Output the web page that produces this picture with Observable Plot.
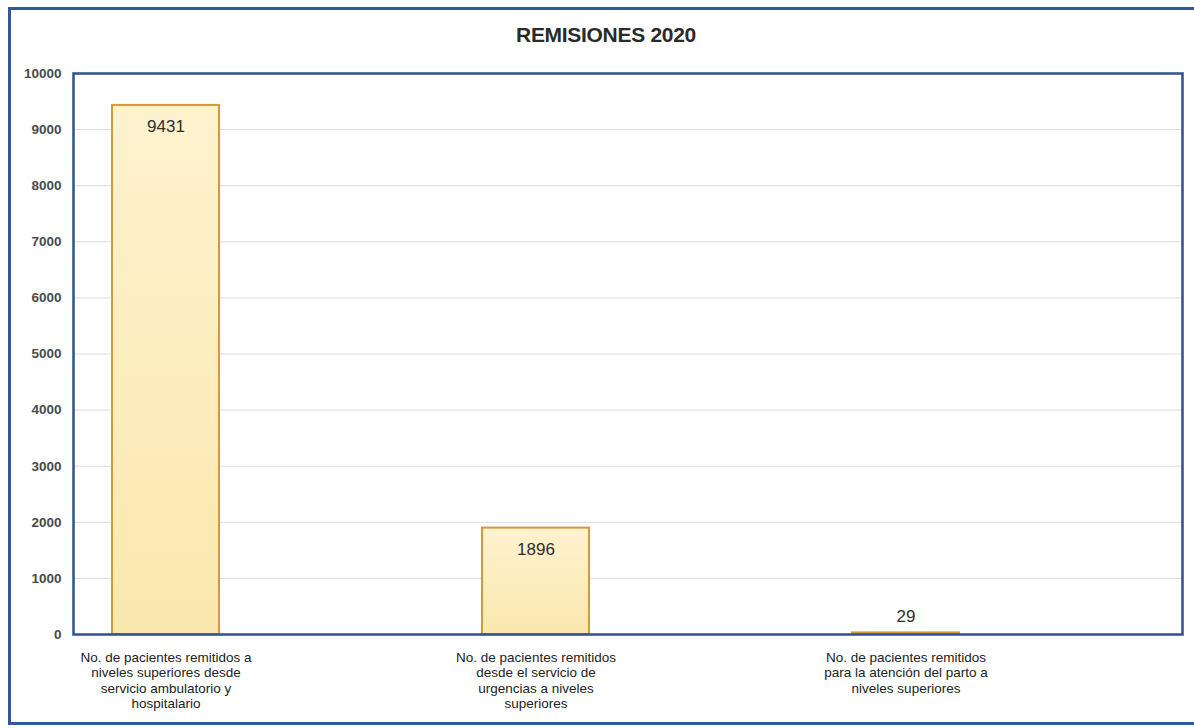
<!DOCTYPE html>
<html>
<head>
<meta charset="utf-8">
<script src="https://cdn.jsdelivr.net/npm/d3@7"></script>
<script src="https://cdn.jsdelivr.net/npm/@observablehq/plot@0.6"></script>
<style>
  html, body { margin: 0; padding: 0; background: #fff; overflow: hidden; width: 1194px; height: 728px; }
  #frame { position: absolute; left: 8px; top: 7px; width: 1200px; height: 718px; box-sizing: border-box; border: 3px solid #34579a; border-right: none; }
  #title { position: absolute; left: 0; top: 23px; width: 1212px; text-align: center; font-family: "Liberation Sans", Arial, sans-serif; font-weight: bold; font-size: 21px; color: #2a2a2a; letter-spacing: -0.3px; }
  #chart { position: absolute; left: 0; top: 50px; }
</style>
</head>
<body>
<div id="frame"></div>
<div id="title">REMISIONES 2020</div>
<div id="chart"></div>
<script>
const categories = [
  "No. de pacientes remitidos a\nniveles superiores desde\nservicio ambulatorio y\nhospitalario",
  "No. de pacientes remitidos\ndesde el servicio de\nurgencias a niveles\nsuperiores",
  "No. de pacientes remitidos\npara la atención del parto a\nniveles superiores"
];
const values = [9431, 1896, 29];
const yTicks = [0, 1000, 2000, 3000, 4000, 5000, 6000, 7000, 8000, 9000, 10000];

const data = categories.map((c, i) => ({category: c, value: values[i]}));

const chart = Plot.plot({
  width: 1194,
  height: 670,
  marginTop: 23,
  marginBottom: 86,
  marginLeft: 73,
  marginRight: 12,
  style: {fontFamily: "'Liberation Sans', Arial, sans-serif", background: "transparent", overflow: "visible"},
  x: {type: "band", domain: categories, paddingInner: 0.711, paddingOuter: 0.352, align: 0.15, label: null},
  y: {domain: [0, 10000], label: null},
  marks: [
    Plot.ruleY(yTicks.filter(d => d > 0 && d < 10000), {stroke: "#dcdcdc", strokeWidth: 1}),
    Plot.barY(data, {x: "category", y: "value", fill: "url(#barGrad)", stroke: "#d59a36", strokeWidth: 2}),
    Plot.text(data.filter(d => d.value > 500), {x: "category", y: "value", text: d => String(d.value), dy: 21, fontSize: 17, fill: "#2e2e2e"}),
    Plot.text(data.filter(d => d.value <= 500), {x: "category", y: "value", text: d => String(d.value), dy: -16, fontSize: 17, fill: "#2e2e2e"}),
    Plot.axisY({ticks: yTicks, tickSize: 0, tickPadding: 12, tickFormat: d => String(d), fontSize: 13.5, fontWeight: "bold", fill: "#4a4a4a"}),
    Plot.axisX({tickSize: 0, tickPadding: 16, fontSize: 13.5, fill: "#222", lineHeight: 1.15, textOverflow: null, letterSpacing: "-0.2px"}),
    Plot.frame({stroke: "#2f528f", strokeWidth: 2.5})
  ]
});

const svg = d3.select(chart);
const defs = svg.insert("defs", ":first-child");
const g = defs.append("linearGradient").attr("id", "barGrad").attr("x1", 0).attr("y1", 0).attr("x2", 0).attr("y2", 1);
g.append("stop").attr("offset", "0%").attr("stop-color", "#fef2cf");
g.append("stop").attr("offset", "100%").attr("stop-color", "#fbe8ae");

document.getElementById("chart").appendChild(chart);
</script>
</body>
</html>
